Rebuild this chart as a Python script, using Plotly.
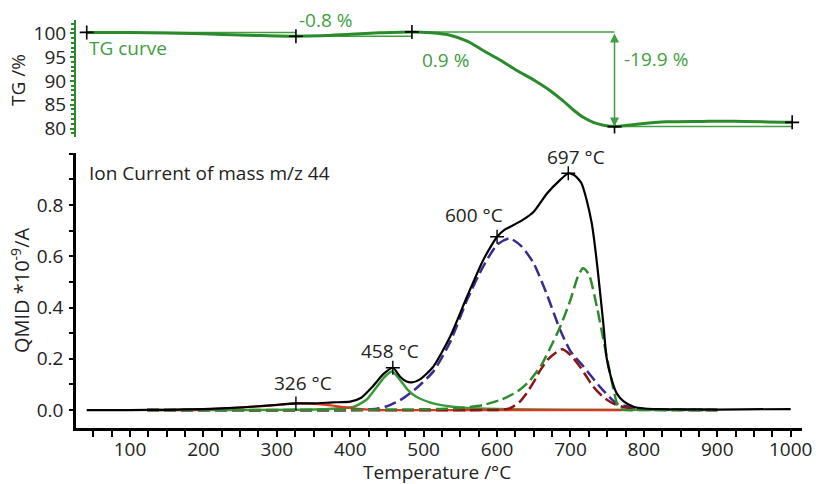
import plotly.graph_objects as go

# ---------------- data ----------------
# TG curve (Temperature /°C, TG /%)
tg_T = [41, 100, 200, 260, 300, 326, 360, 400, 440, 484, 510, 536, 560, 581, 604, 627, 650, 672, 690, 704, 718, 731, 745, 760, 790, 831, 880, 922, 1002]
tg_V = [100.2, 100.15, 99.9, 99.6, 99.45, 99.4, 99.5, 99.8, 100.1, 100.3, 100.1, 99.6, 98.3, 96.4, 94.4, 92.2, 90.2, 88.0, 85.8, 83.9, 82.3, 81.3, 80.7, 80.4, 80.9, 81.4, 81.5, 81.55, 81.3]
# TG evaluation points and step values
tg_pts_T = [41, 326, 484, 760, 1002]
tg_pts_V = [100.2, 99.4, 100.3, 80.4, 81.3]
tg_steps = ["-0.8 %", "0.9 %", "-19.9 %", "0.9 %"]

# Ion current m/z 44 (total)
ic_T = [41, 100, 150, 200, 250, 290, 326, 350, 376, 400, 415, 430, 445, 458, 468, 476, 484, 495, 513, 536, 559, 581, 600, 610, 618, 635, 650, 668, 686, 697, 706, 715, 722, 729, 735, 740, 745, 749, 755, 763, 772, 786, 800, 850, 900, 1000]
ic_V = [0.0, 0.0, 0.001, 0.004, 0.01, 0.018, 0.026, 0.026, 0.03, 0.033, 0.048, 0.09, 0.14, 0.165, 0.13, 0.112, 0.108, 0.12, 0.169, 0.286, 0.442, 0.585, 0.676, 0.703, 0.715, 0.742, 0.774, 0.845, 0.898, 0.924, 0.915, 0.885, 0.82, 0.729, 0.6, 0.468, 0.33, 0.208, 0.13, 0.065, 0.035, 0.013, 0.006, 0.003, 0.002, 0.004]

# Fitted peaks
p1_T = [123, 200, 241, 286, 305, 326, 345, 368, 395, 420, 450, 770]
p1_V = [0.0, 0.002, 0.009, 0.016, 0.021, 0.026, 0.025, 0.02, 0.01, 0.003, 0.0, 0.0]

p2_T = [123, 350, 380, 405, 422, 436, 447, 457, 468, 478, 490, 513, 536, 558, 600, 700, 900]
p2_V = [0.0, 0.002, 0.006, 0.013, 0.04, 0.09, 0.13, 0.15, 0.117, 0.08, 0.052, 0.026, 0.014, 0.008, 0.004, 0.001, 0.0]

p3_T = [123, 400, 436, 450, 468, 490, 513, 536, 559, 581, 600, 617, 633, 650, 668, 686, 700, 718, 740, 763, 786, 800, 850, 900]
p3_V = [0.0, 0.0, 0.005, 0.015, 0.039, 0.085, 0.15, 0.265, 0.429, 0.56, 0.645, 0.67, 0.64, 0.572, 0.45, 0.312, 0.23, 0.169, 0.091, 0.026, 0.01, 0.004, 0.001, 0.0]

p4_T = [123, 590, 605, 617, 630, 640, 650, 659, 670, 688, 700, 713, 722, 731, 745, 758, 772, 786, 800, 850, 900]
p4_V = [0.0, 0.0, 0.001, 0.006, 0.03, 0.065, 0.11, 0.156, 0.2, 0.237, 0.215, 0.169, 0.13, 0.091, 0.05, 0.026, 0.012, 0.005, 0.002, 0.0, 0.0]

p5_T = [123, 500, 550, 581, 605, 627, 643, 659, 672, 686, 700, 710, 717, 725, 736, 745, 754, 759, 764, 768, 775, 800, 900]
p5_V = [0.0, 0.003, 0.008, 0.02, 0.04, 0.071, 0.11, 0.169, 0.24, 0.325, 0.43, 0.52, 0.553, 0.53, 0.403, 0.273, 0.143, 0.075, 0.02, 0.004, 0.0, 0.0, 0.0]

peak_T = [326, 458, 600, 697]
peak_V = [0.026, 0.165, 0.676, 0.924]
peak_lbl = ["326 °C", "458 °C", "600 °C", "697 °C"]

# ---------------- figure ----------------
FONT = "Open Sans"
FS = 19
TXT = "#222222"
GREEN = "#2b8a2b"
GREEN_T = "#3f9e3f"

fig = go.Figure()

# top panel: TG
for i in range(4):
    fig.add_trace(go.Scatter(x=[tg_pts_T[i], tg_pts_T[i + 1]], y=[tg_pts_V[i], tg_pts_V[i]],
                             mode="lines", line=dict(color=GREEN_T, width=1.5),
                             xaxis="x2", yaxis="y2", showlegend=False, hoverinfo="skip"))
fig.add_trace(go.Scatter(x=tg_T, y=tg_V, mode="lines", line=dict(color=GREEN, width=3, shape="spline", smoothing=0.8),
                         xaxis="x2", yaxis="y2", showlegend=False))
fig.add_trace(go.Scatter(x=tg_pts_T, y=tg_pts_V, mode="markers",
                         marker=dict(symbol="cross-thin", size=10, line=dict(color="black", width=1.6)),
                         xaxis="x2", yaxis="y2", showlegend=False))

# bottom panel
SM = 0.6
fig.add_trace(go.Scatter(x=p2_T, y=p2_V, mode="lines", line=dict(color="#3a9a3a", width=2.5, shape="spline", smoothing=SM), showlegend=False))
fig.add_trace(go.Scatter(x=p1_T, y=p1_V, mode="lines", line=dict(color="#e8301c", width=2.2, shape="spline", smoothing=SM), showlegend=False))
fig.add_trace(go.Scatter(x=p3_T, y=p3_V, mode="lines", line=dict(color="#3d2a8e", width=2.5, dash="12px,5px", shape="spline", smoothing=SM), showlegend=False))
fig.add_trace(go.Scatter(x=p4_T, y=p4_V, mode="lines", line=dict(color="#8b1414", width=2.5, dash="12px,5px", shape="spline", smoothing=SM), showlegend=False))
fig.add_trace(go.Scatter(x=p5_T, y=p5_V, mode="lines", line=dict(color="#2e8b2e", width=2.5, dash="12px,5px", shape="spline", smoothing=SM), showlegend=False))
fig.add_trace(go.Scatter(x=ic_T, y=ic_V, mode="lines", line=dict(color="black", width=2.2, shape="spline", smoothing=SM), showlegend=False))
fig.add_trace(go.Scatter(x=peak_T, y=peak_V, mode="markers",
                         marker=dict(symbol="cross-thin", size=10, line=dict(color="black", width=1.4)), showlegend=False))

ann = []
# peak labels
lbl_pos = [(336, 0.104), (454, 0.231), (568, 0.761), (708, 0.988)]
for (x, y), t in zip(lbl_pos, peak_lbl):
    ann.append(dict(x=x, y=y, xref="x", yref="y", text=t, showarrow=False,
                    font=dict(family=FONT, size=FS, color=TXT)))
ann.append(dict(x=41, y=0.925, xref="x", yref="y", text="Ion Current of mass m/z 44", showarrow=False,
                xanchor="left", font=dict(family=FONT, size=FS, color=TXT)))
# TG labels
ann.append(dict(x=41, y=96.9, xref="x2", yref="y2", text="TG curve", showarrow=False,
                xanchor="left", font=dict(family=FONT, size=FS, color=GREEN_T)))
step_pos = [(366, 102.8, "center"), (530, 94.5, "center"), (770, 94.7, "left"), (976, 77.2, "center")]
for (x, y, xa), t in zip(step_pos, tg_steps):
    ann.append(dict(x=x, y=y, xref="x2", yref="y2", text=t, showarrow=False, xanchor=xa,
                    font=dict(family=FONT, size=FS, color=GREEN_T)))
# double arrow
ann.append(dict(x=tg_pts_T[3], y=tg_pts_V[3], ax=tg_pts_T[3], ay=tg_pts_V[2], xref="x2", yref="y2",
                axref="x2", ayref="y2", text="", showarrow=True, arrowhead=2, arrowside="end+start",
                arrowsize=1.2, arrowwidth=1.5, arrowcolor=GREEN_T))
# axis titles
ann.append(dict(x=0.497, y=-0.108, xref="paper", yref="paper", text="Temperature /°C", showarrow=False,
                xanchor="center", yanchor="middle", font=dict(family=FONT, size=FS, color=TXT)))
ann.append(dict(x=-0.0771, y=0.338, xref="paper", yref="paper", text="QMID *10<sup>-9</sup>/A", showarrow=False,
                textangle=-90, xanchor="center", yanchor="middle", font=dict(family=FONT, size=20, color=TXT)))
ann.append(dict(x=-0.0799, y=0.853, xref="paper", yref="paper", text="TG /%", showarrow=False,
                textangle=-90, xanchor="center", yanchor="middle", font=dict(family=FONT, size=FS, color=TXT)))

XR = [26.4, 1015.4]
fig.update_layout(
    width=816, height=484,
    margin=dict(l=76, r=14, t=20, b=56, autoexpand=False),
    paper_bgcolor="white", plot_bgcolor="white",
    font=dict(family=FONT, size=FS, color=TXT),
    annotations=ann,
    xaxis=dict(domain=[0, 1], range=XR, anchor="y", showline=True, linewidth=2.5, linecolor="black",
               ticks="outside", ticklen=6, tickwidth=2, tickcolor="black", automargin=False,
               ticklabelstandoff=-4,
               tickvals=[100, 200, 300, 400, 500, 600, 700, 800, 900, 1000],
               minor=dict(dtick=25, tick0=0, ticks="outside", ticklen=6, tickwidth=2, tickcolor="black"),
               showgrid=False, zeroline=False, tickfont=dict(size=FS)),
    yaxis=dict(domain=[0, 0.674], range=[-0.070, 1.003], anchor="x", showline=True, linewidth=2.5, linecolor="black",
               ticks="outside", ticklen=4, tickwidth=2, tickcolor="black", automargin=False,
               ticklabelstandoff=2,
               tickvals=[0, 0.2, 0.4, 0.6, 0.8], ticktext=["0.0", "0.2", "0.4", "0.6", "0.8"],
               minor=dict(dtick=0.1, tick0=0, ticks="outside", ticklen=4, tickwidth=2, tickcolor="black"),
               showgrid=False, zeroline=False, tickfont=dict(size=FS)),
    xaxis2=dict(domain=[0, 1], range=XR, anchor="y2", matches="x", visible=False),
    yaxis2=dict(domain=[0.713, 1.0], range=[78.2, 102.8], anchor="x2", showline=True, linewidth=2, linecolor=GREEN,
                ticks="outside", ticklen=4, tickwidth=1.5, tickcolor=GREEN, automargin=False,
                tickvals=[80, 85, 90, 95, 100],
                minor=dict(dtick=1, tick0=0, ticks="outside", ticklen=3, tickwidth=1.5, tickcolor=GREEN),
                showgrid=False, zeroline=False, tickfont=dict(size=FS)),
)

fig.write_html("out.html", config={"displayModeBar": False},
               post_script="document.body.style.margin='0px';document.body.style.padding='0px';")
